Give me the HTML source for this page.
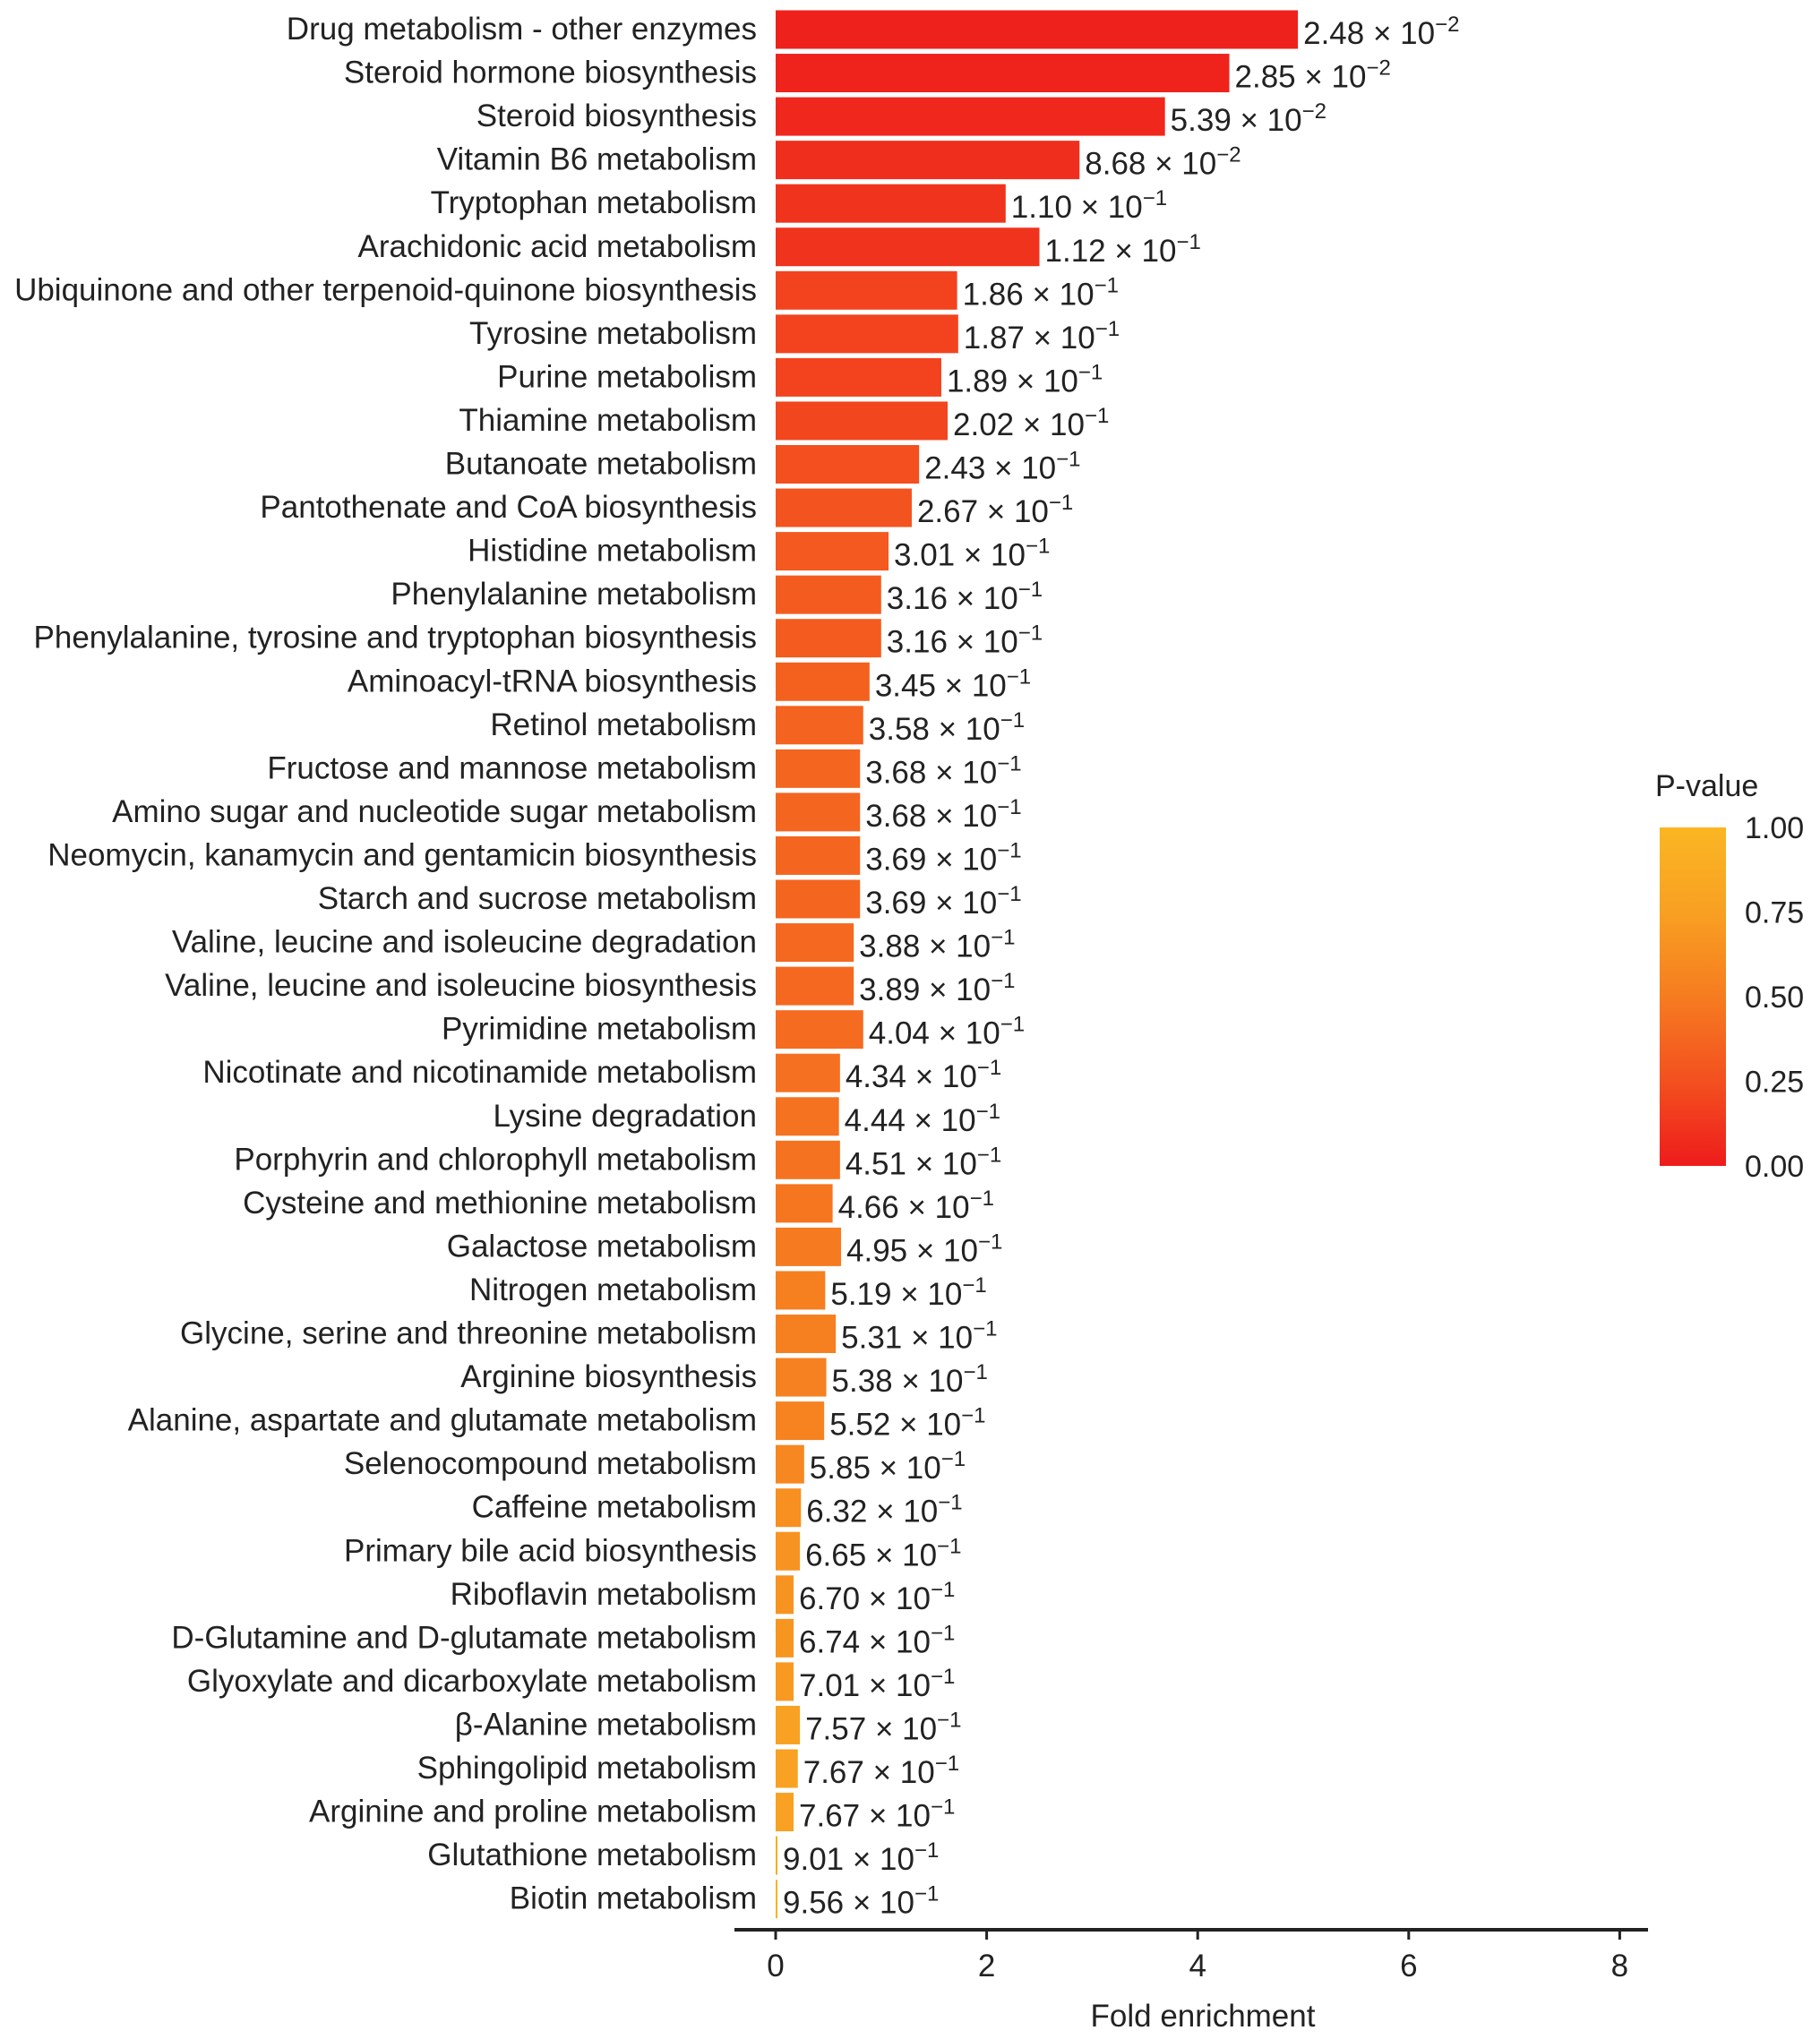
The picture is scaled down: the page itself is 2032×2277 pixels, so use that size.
<!DOCTYPE html>
<html><head><meta charset="utf-8"><style>
html,body{margin:0;padding:0;background:#fff;}
svg{display:block;font-family:"Liberation Sans",Arial,sans-serif;}
</style></head><body>
<svg id="chart" width="2032" height="2277" viewBox="0 0 2032 2277" xmlns="http://www.w3.org/2000/svg">
<defs>
<linearGradient id="cbar" x1="0" y1="1" x2="0" y2="0">
<stop offset="0" stop-color="#ee1c1c"/><stop offset="0.25" stop-color="#f3501f"/><stop offset="0.5" stop-color="#f67c20"/><stop offset="0.75" stop-color="#f8a022"/><stop offset="1" stop-color="#fbb623"/>
</linearGradient>
</defs>
<g id="bars"></g>
<g id="axis"></g>
<g id="legend"></g>
</svg>
<script>
const categories = ["Drug metabolism - other enzymes","Steroid hormone biosynthesis","Steroid biosynthesis","Vitamin B6 metabolism","Tryptophan metabolism","Arachidonic acid metabolism","Ubiquinone and other terpenoid-quinone biosynthesis","Tyrosine metabolism","Purine metabolism","Thiamine metabolism","Butanoate metabolism","Pantothenate and CoA biosynthesis","Histidine metabolism","Phenylalanine metabolism","Phenylalanine, tyrosine and tryptophan biosynthesis","Aminoacyl-tRNA biosynthesis","Retinol metabolism","Fructose and mannose metabolism","Amino sugar and nucleotide sugar metabolism","Neomycin, kanamycin and gentamicin biosynthesis","Starch and sucrose metabolism","Valine, leucine and isoleucine degradation","Valine, leucine and isoleucine biosynthesis","Pyrimidine metabolism","Nicotinate and nicotinamide metabolism","Lysine degradation","Porphyrin and chlorophyll metabolism","Cysteine and methionine metabolism","Galactose metabolism","Nitrogen metabolism","Glycine, serine and threonine metabolism","Arginine biosynthesis","Alanine, aspartate and glutamate metabolism","Selenocompound metabolism","Caffeine metabolism","Primary bile acid biosynthesis","Riboflavin metabolism","D-Glutamine and D-glutamate metabolism","Glyoxylate and dicarboxylate metabolism","\u03b2-Alanine metabolism","Sphingolipid metabolism","Arginine and proline metabolism","Glutathione metabolism","Biotin metabolism"];
const foldValues = [4.95,4.30,3.69,2.88,2.18,2.50,1.72,1.73,1.57,1.63,1.36,1.29,1.07,1.00,1.00,0.89,0.83,0.80,0.80,0.80,0.80,0.74,0.74,0.83,0.61,0.60,0.61,0.54,0.62,0.47,0.57,0.48,0.46,0.27,0.24,0.23,0.17,0.17,0.17,0.23,0.21,0.17,0.01,0.01];
const pMant = ["2.48","2.85","5.39","8.68","1.10","1.12","1.86","1.87","1.89","2.02","2.43","2.67","3.01","3.16","3.16","3.45","3.58","3.68","3.68","3.69","3.69","3.88","3.89","4.04","4.34","4.44","4.51","4.66","4.95","5.19","5.31","5.38","5.52","5.85","6.32","6.65","6.70","6.74","7.01","7.57","7.67","7.67","9.01","9.56"];
const pExp = [-2,-2,-2,-2,-1,-1,-1,-1,-1,-1,-1,-1,-1,-1,-1,-1,-1,-1,-1,-1,-1,-1,-1,-1,-1,-1,-1,-1,-1,-1,-1,-1,-1,-1,-1,-1,-1,-1,-1,-1,-1,-1,-1,-1];
const xTicks = [0,2,4,6,8];
const legendTicks = ["0.00","0.25","0.50","0.75","1.00"];

const NS="http://www.w3.org/2000/svg";
const x0=866, unit=117.8, rowTop=33, rowStep=48.55, barH=43;
const xs=v=>x0+v*unit, ys=i=>rowTop+i*rowStep;
const stops=[[0,[238,28,28]],[0.25,[243,80,31]],[0.5,[246,124,32]],[0.75,[248,160,34]],[1,[251,182,35]]];
function col(p){for(let k=1;k<stops.length;k++){if(p<=stops[k][0]){const a=stops[k-1],b=stops[k],t=(p-a[0])/(b[0]-a[0]);return 'rgb('+a[1].map((c,j)=>Math.round(c+(b[1][j]-c)*t)).join(',')+')';}}return 'rgb(251,182,35)';}
function mk(tag,attrs,parent){const e=document.createElementNS(NS,tag);for(const k in attrs)e.setAttribute(k,attrs[k]);parent.appendChild(e);return e;}
const bars=document.getElementById('bars');
categories.forEach((c,i)=>{
  const y=ys(i), p=parseFloat(pMant[i])*Math.pow(10,pExp[i]);
  const t=mk('text',{x:845,y:y+11,'text-anchor':'end','font-size':35,fill:'#222'},bars);
  t.textContent=c;
  
  
  const w=Math.max(2,xs(foldValues[i])-x0);
  const r=mk('rect',{x:x0,y:y-barH/2,width:w,height:barH,fill:col(p)},bars);
  
  
  const v=mk('text',{x:x0+w+6,y:y+16,'font-size':35,fill:'#222'},bars);
  
  
  const s1=mk('tspan',{},v); s1.textContent=pMant[i]+' \u00d7 10';
  const s2=mk('tspan',{dy:-14,'font-size':24},v); s2.textContent='\u2212'+Math.abs(pExp[i]);
});
const ax=document.getElementById('axis');
const l=mk('line',{x1:820,x2:1840,y1:2155,y2:2155,stroke:'#222','stroke-width':4},ax);


xTicks.forEach(v=>{
  const tk=mk('line',{x1:xs(v),x2:xs(v),y1:2155,y2:2166,stroke:'#222','stroke-width':3},ax);
  
  
  const tl=mk('text',{x:xs(v),y:2207,'text-anchor':'middle','font-size':35,fill:'#222'},ax);
  tl.textContent=v;
  
  
});
const at=mk('text',{x:1343,y:2263,'text-anchor':'middle','font-size':35,fill:'#222'},ax);
at.textContent='Fold enrichment';


const lg=document.getElementById('legend');
const ttl=mk('text',{x:1848,y:889,'font-size':34,fill:'#222'},lg);
ttl.textContent='P-value';


const cb=mk('rect',{x:1853,y:924,width:74,height:378,fill:'url(#cbar)'},lg);


legendTicks.forEach((s,k)=>{
  const y=1302-k*(378/4);
  const lt=mk('text',{x:1948,y:y+12,'font-size':34,fill:'#222'},lg);
  lt.textContent=s;
  
  
});
</script>
</body></html>
